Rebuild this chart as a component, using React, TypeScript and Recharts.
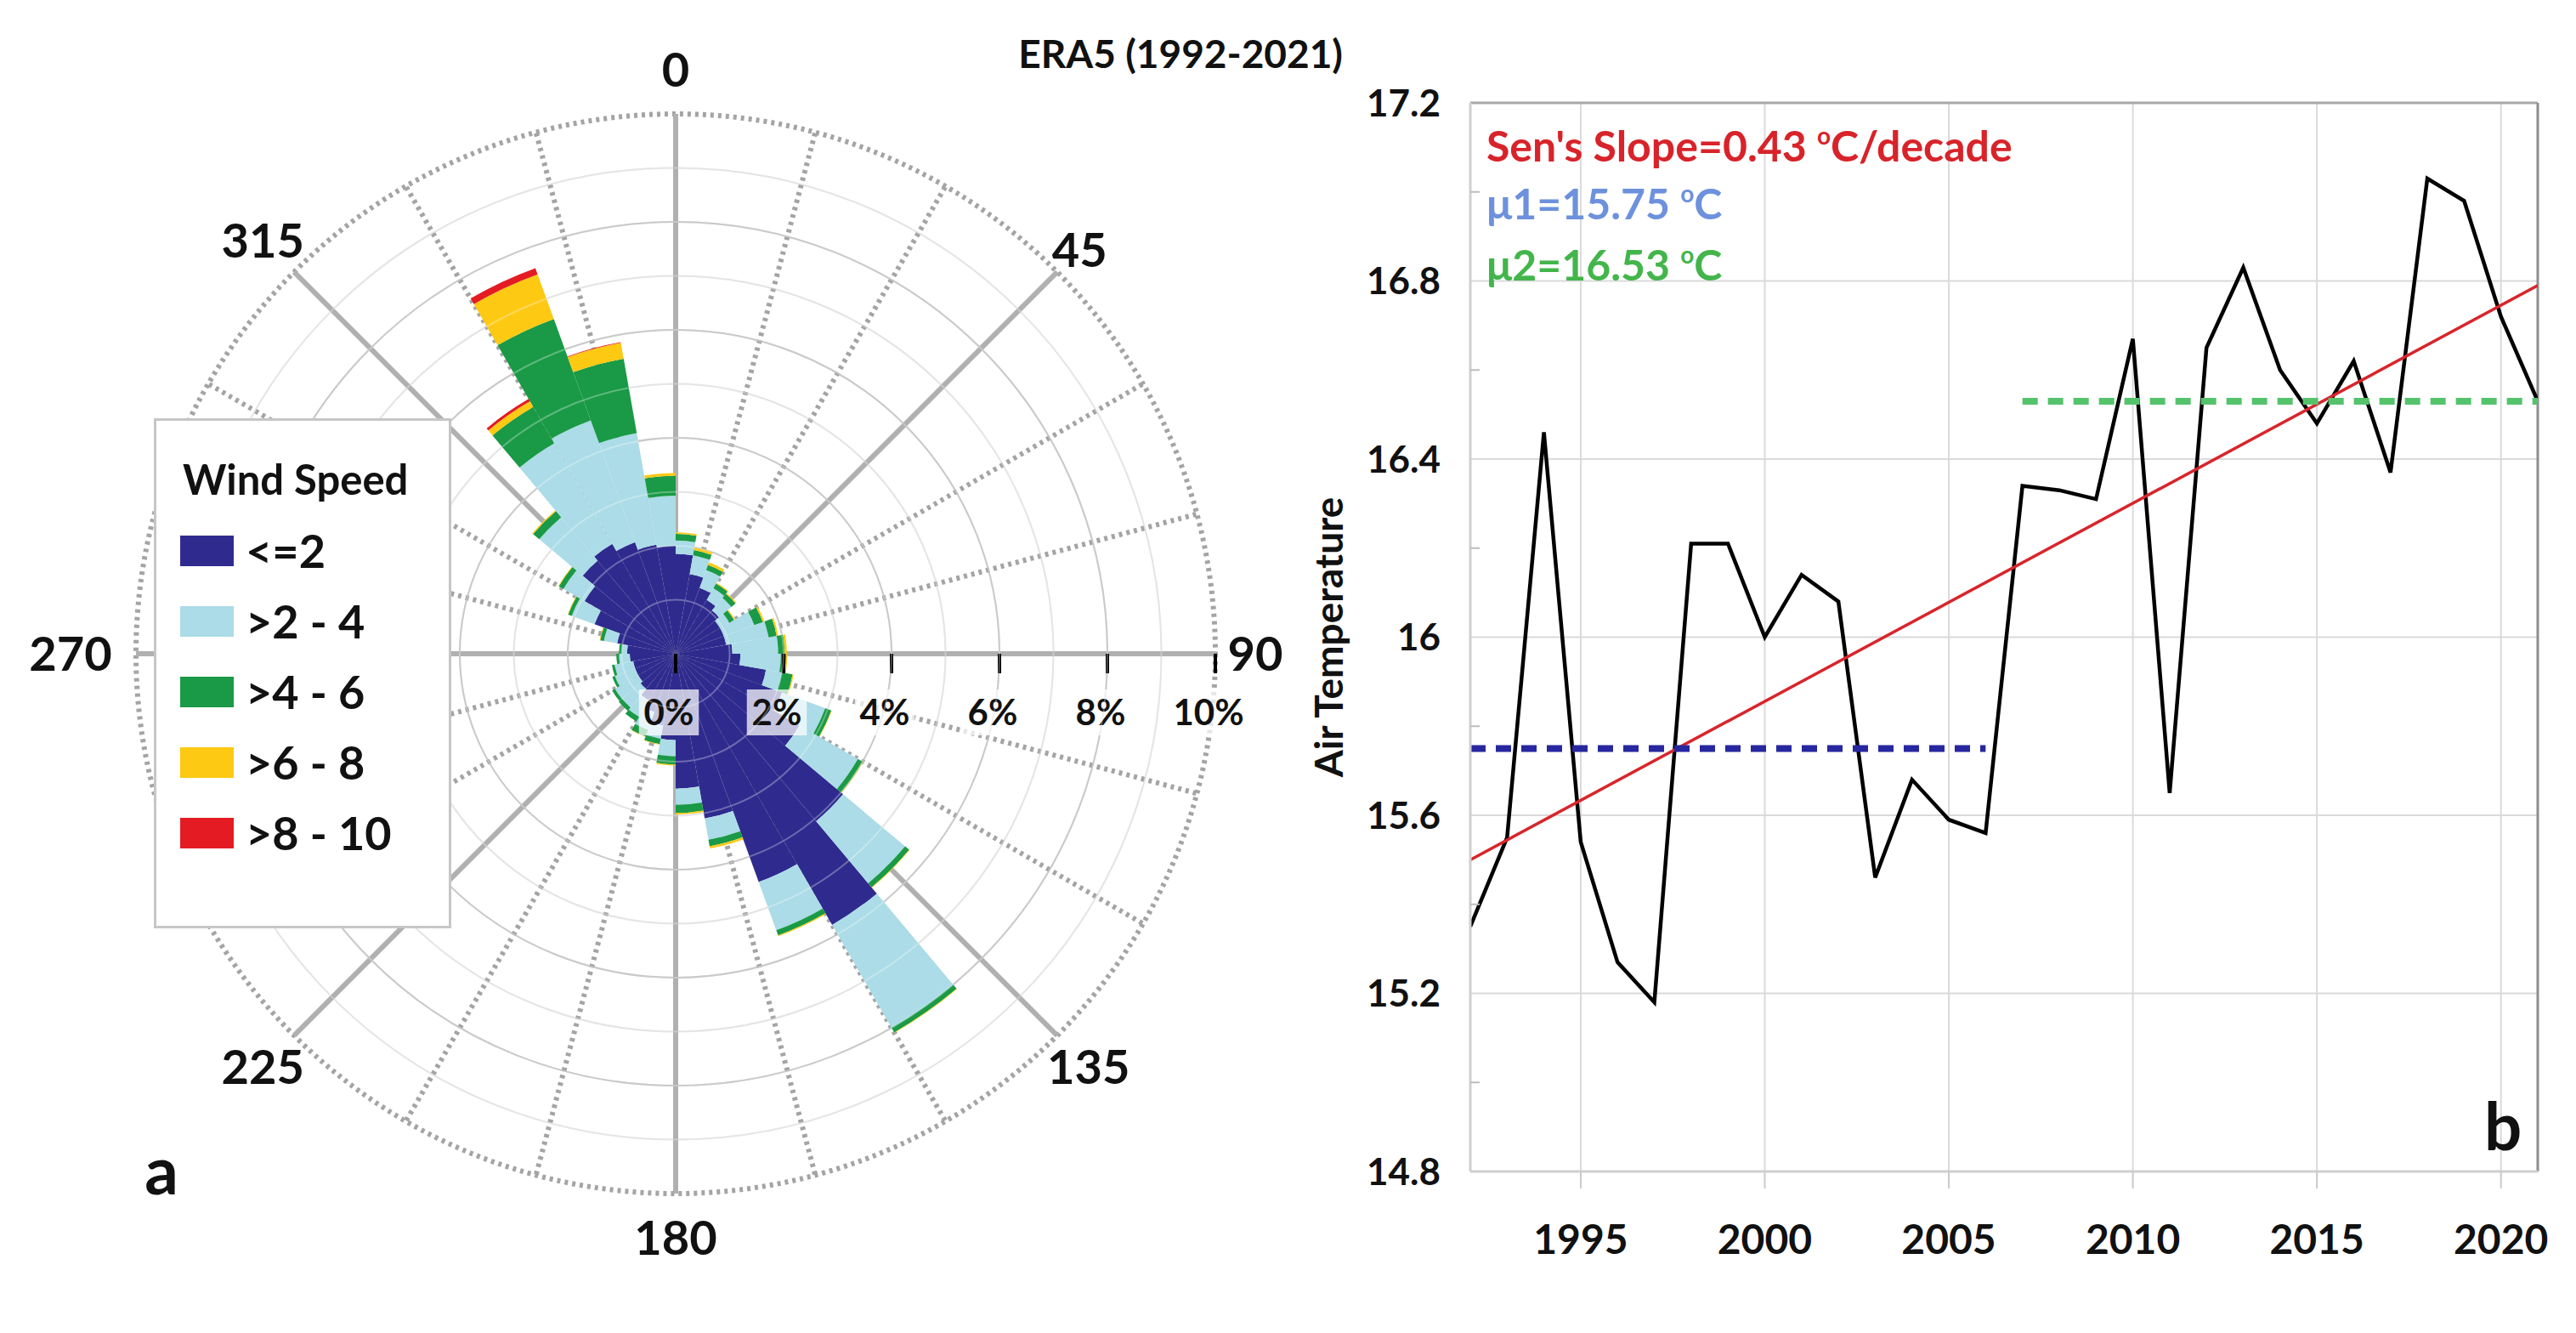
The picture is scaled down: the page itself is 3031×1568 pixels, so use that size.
import React from 'react';
import {
  RadialBarChart, RadialBar, PolarGrid, PolarAngleAxis, PolarRadiusAxis, Legend,
  LineChart, Line, XAxis, YAxis, CartesianGrid, ReferenceLine,
} from 'recharts';

const FONT = 'Lato, "Open Sans", "DejaVu Sans", sans-serif';

// ---- wind rose (a): 36 sectors of 10 deg, named by sector centre ----
const DIRS = ['5', '15', '25', '35', '45', '55', '65', '75', '85', '95', '105', '115',
  '125', '135', '145', '155', '165', '175', '185', '195', '205', '215', '225', '235',
  '245', '255', '265', '275', '285', '295', '305', '315', '325', '335', '345', '355'];

// frequency (%) of each speed class per sector
const WS_0_2 = [1.85, 1.5, 1.3, 1.15, 1.05, 0.95, 0.95, 0.95, 1.05, 1.2, 1.7, 2.1,
  2.65, 4.05, 5.8, 4.5, 3.1, 2.5, 1.6, 1.35, 1.15, 1.0, 0.85, 0.8,
  0.8, 0.8, 0.85, 0.9, 1.1, 1.6, 1.95, 2.25, 2.35, 2.2, 2.05, 2.0];
const WS_2_4 = [0.25, 0.35, 0.35, 0.25, 0.3, 0.2, 0.6, 0.8, 0.85, 0.75, 0.3, 0.85,
  1.25, 1.5, 2.2, 0.95, 0.4, 0.3, 0.3, 0.25, 0.35, 0.35, 0.45, 0.5,
  0.4, 0.35, 0.2, 0.1, 0.25, 0.45, 0.45, 1.05, 2.15, 2.4, 2.1, 0.93];
const WS_4_6 = [0.12, 0.1, 0.1, 0.1, 0.1, 0.1, 0.17, 0.15, 0.12, 0.1, 0.2, 0.12,
  0.1, 0.1, 0.1, 0.1, 0.12, 0.15, 0.15, 0.1, 0.13, 0.1, 0.08, 0.06,
  0.05, 0.05, 0.05, 0.05, 0.07, 0.07, 0.1, 0.15, 0.78, 2.0, 1.4, 0.37];
const WS_6_8 = [0.03, 0.05, 0.05, 0.02, 0.02, 0.02, 0.03, 0.03, 0.04, 0.02, 0.02, 0.01,
  0.01, 0.01, 0.01, 0.02, 0.04, 0.03, 0.02, 0.01, 0.01, 0, 0, 0,
  0, 0, 0, 0, 0.01, 0.01, 0.01, 0.02, 0.12, 0.88, 0.3, 0.05];
const WS_8_10 = [0, 0, 0, 0, 0, 0, 0, 0, 0, 0, 0, 0,
  0, 0, 0, 0, 0, 0, 0, 0, 0, 0, 0, 0,
  0, 0, 0, 0, 0, 0, 0, 0, 0.05, 0.12, 0.01, 0];

const SPEED_CLASSES = [
  { key: 'c1', name: '<=2', color: '#2f2b8e', values: WS_0_2 },
  { key: 'c2', name: '>2 - 4', color: '#abdce7', values: WS_2_4 },
  { key: 'c3', name: '>4 - 6', color: '#1a9a46', values: WS_4_6 },
  { key: 'c4', name: '>6 - 8', color: '#fdc913', values: WS_6_8 },
  { key: 'c5', name: '>8 - 10', color: '#e41b23', values: WS_8_10 },
];

const DIR_LABELS = [0, 45, 90, 135, 180, 225, 270, 315];
const PCT_TICKS = [0, 2, 4, 6, 8, 10];
const RING_PCTS = [1, 2, 3, 4, 5, 6, 7, 8, 9];

// ---- air temperature (b) ----
const YEARS = [1992, 1993, 1994, 1995, 1996, 1997, 1998, 1999, 2000, 2001, 2002, 2003,
  2004, 2005, 2006, 2007, 2008, 2009, 2010, 2011, 2012, 2013, 2014, 2015,
  2016, 2017, 2018, 2019, 2020, 2021];
const AIR_TEMP = [15.35, 15.55, 16.46, 15.54, 15.27, 15.18, 16.21, 16.21, 16.0, 16.14, 16.08, 15.46,
  15.68, 15.59, 15.56, 16.34, 16.33, 16.31, 16.67, 15.65, 16.65, 16.83, 16.6, 16.48,
  16.62, 16.37, 17.03, 16.98, 16.72, 16.53];
const TREND_YEARS = [1992, 2021];
const TREND_VALUES = [15.5, 16.79];
const MU1_YEARS = [1992, 2006];
const MU1 = 15.75;
const MU2_YEARS = [2007, 2021];
const MU2 = 16.53;
const X_TICKS = [1995, 2000, 2005, 2010, 2015, 2020];
const Y_MAJOR = [14.8, 15.2, 15.6, 16, 16.4, 16.8, 17.2];
const Y_MINOR = [15.0, 15.4, 15.8, 16.2, 16.6, 17.0];

// layout of the rose
const CX = 795;
const CY = 769;
const R = 635;
// recharts puts the first band one sector early, so the chart starts 10 deg back
const SECTOR = 10;

const roseData = DIRS.map((dir, i) => {
  const row: Record<string, any> = { dir };
  SPEED_CLASSES.forEach((c) => { row[c.key] = c.values[i]; });
  return row;
});

const tempData = YEARS.map((year, i) => ({ year, temp: AIR_TEMP[i] }));
const trendData = TREND_YEARS.map((year, i) => ({ year, v: TREND_VALUES[i] }));
const mu1Data = MU1_YEARS.map((year) => ({ year, v: MU1 }));
const mu2Data = MU2_YEARS.map((year) => ({ year, v: MU2 }));

const toChartAngle = (compass: number) => 90 - compass;
const solidSpokes = [0, 45, 90, 135, 180, 225, 270, 315].map(toChartAngle);
const dottedSpokes = [15, 30, 60, 75, 105, 120, 150, 165, 195, 210, 240, 255, 285, 300, 330, 345].map(toChartAngle);
const ringPx = (p: number) => (p * R) / 10;

const DirTick = (props: any) => {
  const v = Number(props.payload?.value);
  const r = v === 270 ? 712 : v === 45 ? 672 : v === 90 ? 682 : 687;
  const a = (v * Math.PI) / 180;
  const x = CX + r * Math.sin(a);
  const y = CY - r * Math.cos(a);
  return (
    <text x={x} y={y} dy="0.36em" textAnchor="middle" fontSize={56} fontWeight={700} fill="#111">
      {v}
    </text>
  );
};

const PctTick = (props: any) => {
  const { x, y, payload } = props;
  const s = String(payload.value);
  const w = 42 * (0.58 * s.length + 0.86) + 10;
  return (
    <g>
      <line x1={x} y1={y} x2={x} y2={y + 23} stroke="#000" strokeWidth={4} />
      <rect x={x - 8 - w / 2} y={y + 42} width={w} height={54} fill="#fff" fillOpacity={0.72} />
      <text x={x - 8} y={y + 69} dy="0.36em" textAnchor="middle" fontSize={42} fontWeight={700} fill="#111">
        {s}%
      </text>
    </g>
  );
};

const RoseLegend = () => (
  <div style={{
    width: 350, height: 600, boxSizing: 'border-box', border: '3px solid #c6c6c6',
    background: '#fff', position: 'relative', fontFamily: FONT, fontWeight: 700, color: '#111',
  }}>
    <div style={{ position: 'absolute', left: 31, top: 68 - 30, fontSize: 49, lineHeight: '60px' }}>Wind Speed</div>
    {SPEED_CLASSES.map((c, i) => (
      <div key={c.key} style={{ position: 'absolute', left: 28, top: 153 + i * 83 - 30, height: 60, display: 'flex', alignItems: 'center' }}>
        <div style={{ width: 63, height: 36, background: c.color }} />
        <div style={{ marginLeft: 14, fontSize: 54, lineHeight: '60px' }}>{c.name}</div>
      </div>
    ))}
  </div>
);

const TempTick = (props: any) => {
  const { x, y, payload } = props;
  const v = Number(payload.value);
  const major = Y_MAJOR.some((m) => Math.abs(m - v) < 1e-6);
  if (!major) {
    return <line x1={x + 35} y1={y} x2={x + 46} y2={y} stroke="#bdbdbd" strokeWidth={2} />;
  }
  return (
    <text x={x} y={y} dy="0.36em" textAnchor="end" fontSize={44} fontWeight={700} fill="#111">
      {String(+v.toFixed(1))}
    </text>
  );
};

const AxisTitle = (props: any) => {
  const vb = props.viewBox || { x: 0, y: 121, width: 230, height: 1257 };
  const x = vb.x + 62;
  const y = vb.y + vb.height / 2;
  return (
    <text x={x} y={y} transform={`rotate(-90 ${x} ${y})`} textAnchor="middle" dominantBaseline="central"
      fontSize={46} fontWeight={700} fill="#111">
      Air Temperature
    </text>
  );
};

export default function App() {
  return (
    <div style={{ position: 'absolute', left: 0, top: 0, width: 3031, height: 1568, background: '#fff', fontFamily: FONT, overflow: 'hidden' }}>
      <div style={{ position: 'absolute', left: 0, top: 0 }}>
        <RadialBarChart
          width={1545}
          height={1568}
          data={roseData}
          layout="centric"
          cx={CX}
          cy={CY}
          innerRadius={0}
          outerRadius={R}
          startAngle={90 - SECTOR}
          endAngle={-270 - SECTOR}
          barCategoryGap={0}
          barGap={0}
          margin={{ top: 0, right: 0, bottom: 0, left: 0 }}
        >
          <PolarGrid gridType="circle" radialLines={false} polarRadius={[2, 4, 6, 8].map(ringPx)} stroke="#b4b4b4" strokeWidth={2} />
          <PolarGrid gridType="circle" radialLines={false} polarRadius={[1, 3, 5, 7, 9].map(ringPx)} stroke="#dadada" strokeWidth={2} />
          <PolarGrid gridType="circle" polarAngles={dottedSpokes} polarRadius={[R]} stroke="#a4a4a4" strokeWidth={6} strokeDasharray="4 5" />
          <PolarGrid gridType="circle" polarAngles={solidSpokes} polarRadius={[0]} stroke="#b0b0b0" strokeWidth={6} />
          <PolarAngleAxis dataKey="dir" type="category" tick={false} axisLine={false} tickLine={false} />
          <PolarAngleAxis angleAxisId="deg" type="number" domain={[-SECTOR, 360 - SECTOR]} ticks={DIR_LABELS} tick={<DirTick />} axisLine={false} tickLine={false} allowDataOverflow />
          {SPEED_CLASSES.map((c) => (
            <RadialBar key={c.key} dataKey={c.key} name={c.name} stackId="ws" fill={c.color} stroke="none" isAnimationActive={false} />
          ))}
          <PolarGrid gridType="circle" radialLines={false} polarRadius={RING_PCTS.map(ringPx)} stroke="#ffffff" strokeOpacity={0.3} strokeWidth={2} zIndex={600} />
          <PolarRadiusAxis type="number" domain={[0, 10]} angle={0} ticks={PCT_TICKS} tick={<PctTick />} axisLine={false} allowDataOverflow />
          <Legend
            layout="horizontal"
            align="center"
            verticalAlign="middle"
            content={<RoseLegend />}
            wrapperStyle={{ position: 'absolute', left: 181, top: 492, width: 350, height: 600 }}
          />
        </RadialBarChart>
      </div>

      <div style={{ position: 'absolute', left: 1500, top: 0 }}>
        <LineChart width={1531} height={1568} data={tempData} margin={{ top: 121, right: 45, bottom: 90, left: 0 }}>
          <CartesianGrid stroke="#dadada" strokeWidth={2} horizontalValues={Y_MAJOR} verticalValues={X_TICKS} />
          <XAxis
            dataKey="year"
            type="number"
            domain={[1992, 2021]}
            ticks={X_TICKS}
            interval={0}
            height={100}
            tickSize={20}
            tickMargin={43}
            tickLine={{ stroke: '#cacaca', strokeWidth: 2 }}
            axisLine={{ stroke: '#cfcfcf', strokeWidth: 3 }}
            tick={{ fill: '#111', fontSize: 48, fontWeight: 700 }}
            allowDataOverflow
          />
          <YAxis
            type="number"
            domain={[14.8, 17.2]}
            ticks={[...Y_MAJOR, ...Y_MINOR].sort((a, b) => a - b)}
            interval={0}
            width={230}
            tickSize={0}
            tickMargin={35}
            tick={<TempTick />}
            axisLine={{ stroke: '#cfcfcf', strokeWidth: 3 }}
            label={<AxisTitle />}
            allowDataOverflow
          />
          <ReferenceLine y={17.2} stroke="#a8a8a8" strokeWidth={3} />
          <ReferenceLine x={2021} stroke="#8e8e8e" strokeWidth={3} />
          <Line dataKey="temp" stroke="#000" strokeWidth={4.5} dot={false} activeDot={false} isAnimationActive={false} />
          <Line data={trendData} dataKey="v" stroke="#d8252b" strokeWidth={3.5} dot={false} activeDot={false} isAnimationActive={false} />
          <Line data={mu1Data} dataKey="v" stroke="#2727a0" strokeWidth={8} strokeDasharray="18 12" dot={false} activeDot={false} isAnimationActive={false} />
          <Line data={mu2Data} dataKey="v" stroke="#55c36c" strokeWidth={8} strokeDasharray="18 12" dot={false} activeDot={false} isAnimationActive={false} />
        </LineChart>
      </div>

      <svg width={3031} height={1568} style={{ position: 'absolute', left: 0, top: 0, pointerEvents: 'none' }} fontFamily={FONT} fontWeight={700}>
        <text x={1580} y={80} textAnchor="end" fontSize={46} fill="#111">ERA5 (1992-2021)</text>
        <text x={190} y={1405} textAnchor="middle" fontSize={78} fill="#111">a</text>
        <text x={2923} y={1353} fontSize={78} fill="#111">b</text>
        <text x={1749} y={190} fontSize={50} fill="#d8232a">
          Sen's Slope=0.43 <tspan fontSize={28} dy={-20}>o</tspan><tspan dy={20}>C/decade</tspan>
        </text>
        <text x={1749} y={258} fontSize={50} fill="#6d91dc">
          μ1=15.75 <tspan fontSize={28} dy={-20}>o</tspan><tspan dy={20}>C</tspan>
        </text>
        <text x={1749} y={330} fontSize={50} fill="#43b54b">
          μ2=16.53 <tspan fontSize={28} dy={-20}>o</tspan><tspan dy={20}>C</tspan>
        </text>
      </svg>
    </div>
  );
}
